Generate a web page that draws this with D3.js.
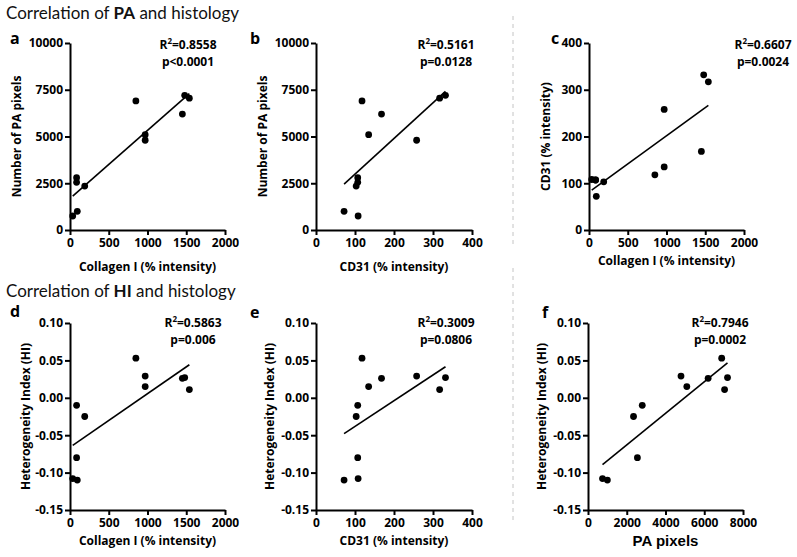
<!DOCTYPE html>
<html><head><meta charset="utf-8">
<script src="https://cdn.jsdelivr.net/npm/d3@7"></script>
<style>body{margin:0;background:#fff}svg{display:block}</style>
</head><body>
<svg id="chart" width="797" height="557"></svg>
<script>
// ---- data (one entry per sample) ----
const collagen = [35, 94, 85, 85, 190, 850, 970, 970, 1450, 1480, 1540];
const cd31     = [108, 72, 107, 107, 103, 118, 258, 135, 168, 332, 317];
const paPixels = [750, 1000, 2550, 2800, 2350, 6900, 4800, 5100, 6200, 7200, 7050];
const hi       = [-0.108, -0.110, -0.080, -0.010, -0.025, 0.053, 0.029, 0.015, 0.026, 0.027, 0.011];

// ---- tick values / labels ----
const collagenTicks = [0, 500, 1000, 1500, 2000];
const cd31Ticks = [0, 100, 200, 300, 400];
const paTicks = [0, 2500, 5000, 7500, 10000];
const paXTicks = [0, 2000, 4000, 6000, 8000];
const hiTicks = [-0.15, -0.10, -0.05, 0.00, 0.05, 0.10];
const hiTickLabels = ["-0.15", "-0.10", "-0.05", "0.00", "0.05", "0.10"];

// ---- statistics text ----
const r2Values = ["0.8558", "0.5161", "0.6607", "0.5863", "0.3009", "0.7946"];
const pValues = ["p<0.0001", "p=0.0128", "p=0.0024", "p=0.006", "p=0.0806", "p=0.0002"];
const panelLetters = ["a", "b", "c", "d", "e", "f"];
const sectionTitles = [["Correlation of ", "PA", " and histology"], ["Correlation of ", "HI", " and histology"]];

const svg = d3.select("#chart");
const FONT = "'Open Sans', sans-serif";

function panel(o) {
  const x = d3.scaleLinear().domain(o.xDomain).range([o.left, o.right]);
  const y = d3.scaleLinear().domain(o.yDomain).range([o.bottom, o.top]);
  const g = svg.append("g");

  const ya = d3.axisLeft(y).tickValues(o.yTicks).tickSize(5).tickSizeOuter(0).tickPadding(2);
  if (o.yTickLabels) ya.tickFormat((d, i) => o.yTickLabels[i]);
  else ya.tickFormat(d3.format("d"));
  const xa = d3.axisBottom(x).tickValues(o.xTicks).tickSize(5).tickSizeOuter(0).tickPadding(3).tickFormat(d3.format("d"));

  const gy = g.append("g").attr("transform", `translate(${o.left},0)`).call(ya);
  const gx = g.append("g").attr("transform", `translate(0,${o.bottom})`).call(xa);
  [gx, gy].forEach(a => {
    a.select(".domain").attr("stroke", "#000").attr("stroke-width", 2);
    a.selectAll(".tick line").attr("stroke", "#000").attr("stroke-width", 2);
    a.selectAll(".tick text").attr("fill", "#000").style("font-family", FONT)
      .style("font-weight", "bold").style("font-size", "12px");
  });

  // regression line (least squares, drawn across data range)
  const xs = o.xs, ys = o.ys, n = xs.length;
  const mx = d3.mean(xs), my = d3.mean(ys);
  let sxy = 0, sxx = 0;
  for (let i = 0; i < n; i++) { sxy += (xs[i] - mx) * (ys[i] - my); sxx += (xs[i] - mx) ** 2; }
  const b = sxy / sxx, a0 = my - b * mx;
  const xmin = d3.min(xs), xmax = d3.max(xs);
  g.append("line")
    .attr("x1", x(xmin)).attr("y1", y(a0 + b * xmin))
    .attr("x2", x(xmax)).attr("y2", y(a0 + b * xmax))
    .attr("stroke", "#000").attr("stroke-width", 1.6);

  g.selectAll("circle.pt").data(d3.range(n)).join("circle")
    .attr("class", "pt")
    .attr("cx", i => x(xs[i])).attr("cy", i => y(ys[i])).attr("r", 3.4).attr("fill", "#000");

  // axis titles
  g.append("text").attr("transform", `translate(${o.ylabX},${(o.top + o.bottom) / 2}) rotate(-90)`)
    .attr("text-anchor", "middle").attr("dominant-baseline", "middle")
    .style("font-family", FONT).style("font-weight", "bold").style("font-size", "12px")
    .text(o.yLabel);
  g.append("text").attr("x", (o.left + o.right) / 2).attr("y", o.xlabY)
    .attr("text-anchor", "middle")
    .style("font-family", o.xLabelFont || FONT).style("font-weight", "bold")
    .style("font-size", o.xLabelSize || "12px")
    .text(o.xLabel);

  // panel letter
  g.append("text").attr("x", o.letterX).attr("y", o.letterY)
    .style("font-family", FONT).style("font-weight", "bold").style("font-size", "16px")
    .text(o.letter);

  // stats
  const st = g.append("text").attr("x", o.statX).attr("y", o.statY).attr("text-anchor", "middle")
    .style("font-family", FONT).style("font-weight", "bold").style("font-size", "12px");
  st.append("tspan").text("R");
  st.append("tspan").attr("dy", -5).style("font-size", "8px").text("2");
  st.append("tspan").attr("dy", 5).text("=" + o.r2);
  g.append("text").attr("x", o.statX).attr("y", o.statY + 17).attr("text-anchor", "middle")
    .style("font-family", FONT).style("font-weight", "bold").style("font-size", "12px")
    .text(o.p);
}

// section titles (three pieces laid end to end)
sectionTitles.forEach((parts, k) => {
  let cx = 6;
  const yy = k === 0 ? 19 : 297;
  parts.forEach((p, j) => {
    const t = svg.append("text").attr("x", cx).attr("y", yy)
      .style("font-family", "Lato, 'Open Sans', sans-serif").style("font-size", "17px")
      .style("white-space", "pre").attr("xml:space", "preserve")
      .style("font-weight", j === 1 ? "bold" : "normal").attr("fill", "#111")
      .text(p);
    cx += t.node().getComputedTextLength();
  });
});

// dashed separator
svg.append("line").attr("x1", 513).attr("x2", 513).attr("y1", 16).attr("y2", 247)
  .attr("stroke", "#c4c4c4").attr("stroke-width", 1).attr("stroke-dasharray", "4,4");
svg.append("line").attr("x1", 513).attr("x2", 513).attr("y1", 268).attr("y2", 520)
  .attr("stroke", "#c4c4c4").attr("stroke-width", 1).attr("stroke-dasharray", "4,4");

const TOP1 = 43, BOT1 = 230, TOP2 = 323, BOT2 = 510;

panel({ left: 70, right: 225, top: TOP1, bottom: BOT1, xDomain: [0, 2000], yDomain: [0, 10000],
  xTicks: collagenTicks, yTicks: paTicks, xs: collagen, ys: paPixels,
  xLabel: "Collagen I (% intensity)", yLabel: "Number of PA pixels", ylabX: 18, xlabY: 271,
  letter: panelLetters[0], letterX: 10, letterY: 44, statX: 188, statY: 49, r2: r2Values[0], p: pValues[0] });

panel({ left: 316, right: 472, top: TOP1, bottom: BOT1, xDomain: [0, 400], yDomain: [0, 10000],
  xTicks: cd31Ticks, yTicks: paTicks, xs: cd31, ys: paPixels,
  xLabel: "CD31 (% intensity)", yLabel: "Number of PA pixels", ylabX: 264, xlabY: 271,
  letter: panelLetters[1], letterX: 250, letterY: 44, statX: 446, statY: 49, r2: r2Values[1], p: pValues[1] });

panel({ left: 589, right: 744, top: TOP1, bottom: BOT1, xDomain: [0, 2000], yDomain: [0, 400],
  xTicks: collagenTicks, yTicks: cd31Ticks, xs: collagen, ys: cd31,
  xLabel: "Collagen I (% intensity)", yLabel: "CD31 (% intensity)", ylabX: 547, xlabY: 265,
  letter: panelLetters[2], letterX: 551, letterY: 44, statX: 763, statY: 49, r2: r2Values[2], p: pValues[2] });

panel({ left: 70, right: 225, top: TOP2, bottom: BOT2, xDomain: [0, 2000], yDomain: [-0.15, 0.10],
  xTicks: collagenTicks, yTicks: hiTicks, yTickLabels: hiTickLabels, xs: collagen, ys: hi,
  xLabel: "Collagen I (% intensity)", yLabel: "Heterogeneity Index (HI)", ylabX: 27, xlabY: 545,
  letter: panelLetters[3], letterX: 10, letterY: 317, statX: 193, statY: 327, r2: r2Values[3], p: pValues[3] });

panel({ left: 316, right: 472, top: TOP2, bottom: BOT2, xDomain: [0, 400], yDomain: [-0.15, 0.10],
  xTicks: cd31Ticks, yTicks: hiTicks, yTickLabels: hiTickLabels, xs: cd31, ys: hi,
  xLabel: "CD31 (% intensity)", yLabel: "Heterogeneity Index (HI)", ylabX: 271, xlabY: 545,
  letter: panelLetters[4], letterX: 250, letterY: 318, statX: 446, statY: 327, r2: r2Values[4], p: pValues[4] });

panel({ left: 588, right: 743, top: TOP2, bottom: BOT2, xDomain: [0, 8000], yDomain: [-0.15, 0.10],
  xTicks: paXTicks, yTicks: hiTicks, yTickLabels: hiTickLabels, xs: paPixels, ys: hi,
  xLabel: "PA pixels", yLabel: "Heterogeneity Index (HI)", ylabX: 543, xlabY: 546,
  xLabelFont: "'Liberation Sans', Arial, sans-serif", xLabelSize: "15px",
  letter: panelLetters[5], letterX: 542, letterY: 318, statX: 720, statY: 327, r2: r2Values[5], p: pValues[5] });
</script>
</body></html>
